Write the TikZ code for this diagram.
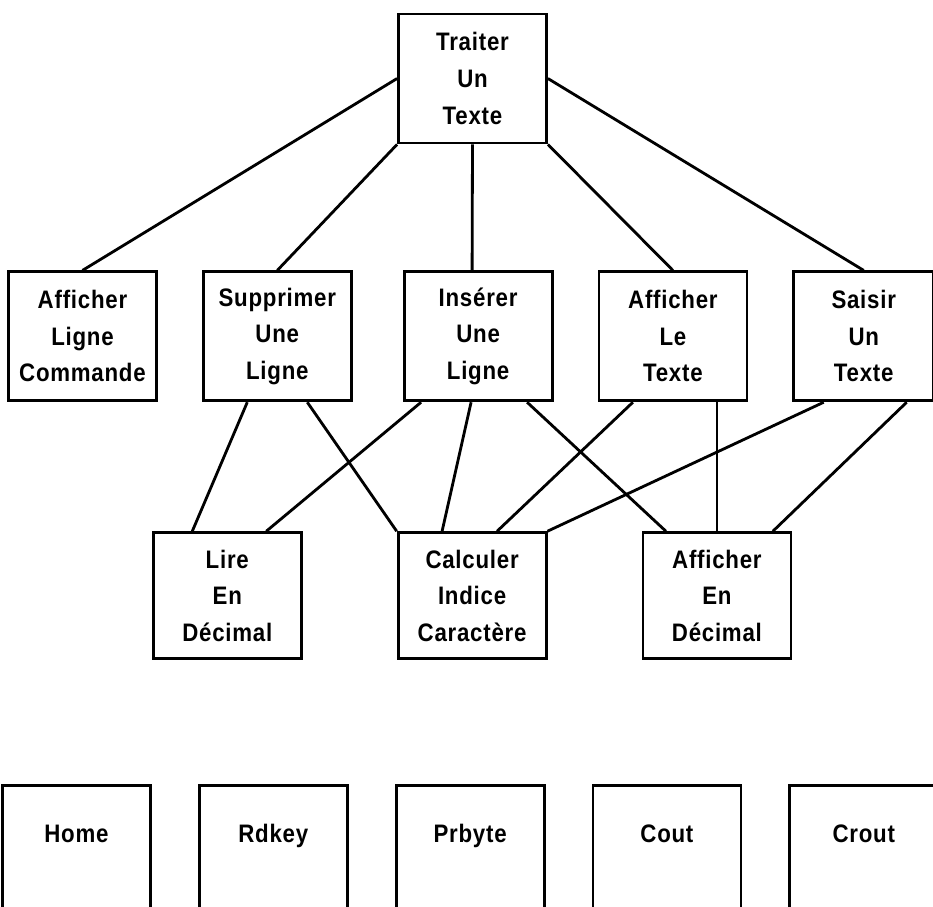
\documentclass[tikz,border=0pt]{standalone}
\usepackage{fontspec}
\newfontfamily\boxfont{Liberation Sans}[LetterSpace=3,FakeStretch=0.88]
\usetikzlibrary{positioning}
\tikzset{main node/.style={rectangle,draw,line width=2pt,minimum width=3.7cm,minimum height=3.225cm,inner sep=0pt,align=center,font=\boxfont\bfseries\fontsize{18}{26}\selectfont},
         lib node/.style={main node,minimum height=0pt,inner ysep=0.975cm,text height=0.45cm,text depth=2.6cm},
            }

\begin{document}
\begin{tikzpicture}
    \useasboundingbox (-11.8125,1.9625) rectangle (11.5125,-20.6875);
    \clip (-11.8125,1.9625) rectangle (11.5125,-20.6875);
    \node[main node] (1) at (0,0) {Traiter\\Un\\Texte};
    \node[main node] (4) [below=3.15cm of 1, xshift=0.14cm] {Insérer\\Une\\Ligne};
    \node[main node] (3) [left=1.25cm of 4] {Supprimer\\Une\\Ligne};
    \node[main node] (2) [left=1.1cm of 3] {Afficher\\Ligne\\Commande};
    \node[main node] (5) [right=1.1cm of 4] {Afficher\\Le\\Texte};
    \node[main node,minimum width=3.5cm] (6) [right=1.1cm of 5] {Saisir\\Un\\Texte};
    \node[main node,minimum height=3.15cm] (7) [below=3.225cm of 3, xshift=-1.25cm] {Lire\\En\\Décimal};
    \node[main node,minimum height=3.15cm] (8) [right=2.35cm of 7] {Calculer\\Indice\\Caractère};
    \node[main node,minimum height=3.15cm] (9) [right=2.35cm of 8] {Afficher\\En\\Décimal};
    \node[lib node] (10) [below=9.55cm of 2, xshift=-0.15cm] {Home};
    \node[lib node] (11) [right=1.15cm of 10] {Rdkey};
    \node[lib node] (12) [right=1.15cm of 11] {Prbyte};
    \node[lib node] (13) [right=1.15cm of 12] {Cout};
    \node[lib node] (14) [right=1.15cm of 13] {Crout};

    \path[draw,line width=2pt,every edge/.style={draw,line width=2pt}]
    (1.west) edge (2.north)
    (1.south west) edge (3.north)
    (1.south) edge ([xshift=-0.15cm]4.north)
    (1.south east) edge (5.north)
    (1.east) edge (6.north)
    ([xshift=-0.75cm]3.south) edge ([xshift=-0.875cm]7.north)
    ([xshift=0.75cm]3.south) edge (8.north west)
    ([xshift=-1.425cm]4.south) edge ([xshift=0.975cm]7.north)
    ([xshift=-0.175cm]4.south) edge ([xshift=-0.75cm]8.north)
    ([xshift=1.225cm]4.south) edge ([xshift=-1.275cm]9.north)
    ([xshift=-1cm]5.south) edge ([xshift=0.625cm]8.north)
    ([xshift=1.1cm]5.south) edge (9.north)
    ([xshift=-1cm]6.south) edge (8.north east)
    ([xshift=1.075cm]6.south) edge ([xshift=1.4cm]9.north)
    ;
    %%
\end{tikzpicture}
\end{document}
